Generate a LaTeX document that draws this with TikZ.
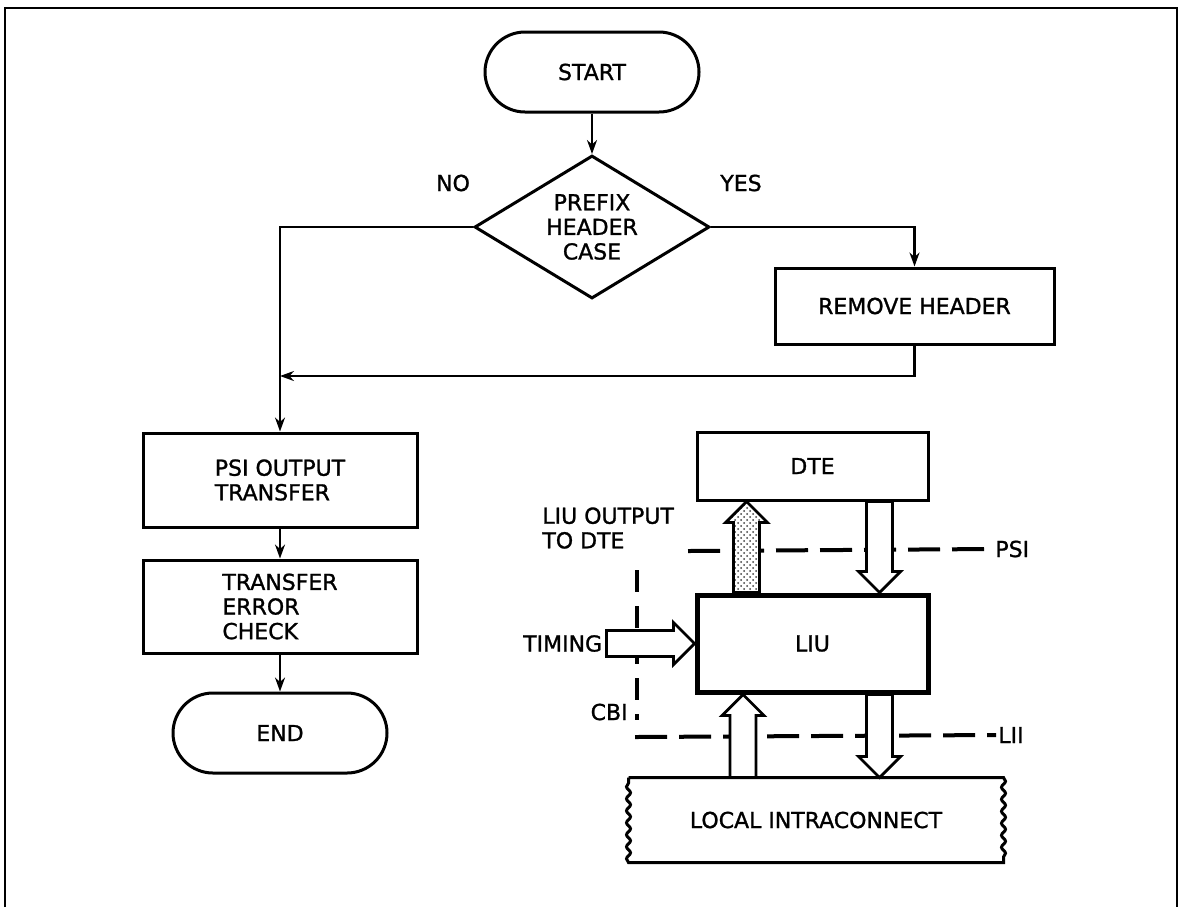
\documentclass[tikz,border=0pt]{standalone}
\usepackage{fontspec}
\setmainfont{DejaVu Sans}[FakeBold=1.2]
\usepackage{tikz}
\usetikzlibrary{arrows.meta,positioning,calc,shapes.geometric,patterns,decorations.pathmorphing}

% hollow block arrow from #2 to #3
\newcommand{\blockarrow}[3][]{%
  \coordinate (hb) at ($(#3)!10.5pt!(#2)$);
  \draw[barrow,#1] ($(#2)!6.5pt!90:(#3)$) -- ($(hb)!6.5pt!-90:(#2)$)
    -- ($(hb)!10.5pt!-90:(#2)$) -- (#3) -- ($(hb)!10.5pt!90:(#2)$)
    -- ($(hb)!6.5pt!90:(#2)$) -- ($(#2)!6.5pt!-90:(#3)$) -- cycle;}

\begin{document}
\begin{tikzpicture}[
  x=0.5pt, y=-0.5pt,
  font=\fontsize{11}{12.3}\selectfont,
  box/.style={draw, line width=1.5pt, minimum width=137pt, inner sep=0pt, align=center},
  term/.style={draw, line width=1.5pt, rounded corners=20pt, minimum width=107pt, minimum height=40pt},
  decision/.style={diamond, draw, line width=1.5pt, aspect=1.64, minimum width=117.5pt, minimum height=71.5pt, inner sep=0pt, align=center},
  lab/.style={inner sep=1pt, align=left},
  arr/.style={-{Stealth[length=7pt,width=5pt]}, line width=1.1pt},
  iface/.style={line width=2pt, dash pattern=on 16pt off 6pt},
  barrow/.style={draw, fill=white, line width=1.4pt, line join=miter},
  wavy/.style={decoration={snake, segment length=6pt, amplitude=1pt}},
]
\useasboundingbox (0,0) rectangle (1182,907);
\draw[line width=1.2pt] (5,907) -- (5,8) -- (1177,8) -- (1177,907);

% ── flow chart ────────────────────────────────────────────────────────────
\node[term] (start) at (592,72) {START};
\node[decision] (prefix) at (592,227) {PREFIX\\HEADER\\CASE};
\node[box, minimum width=139.5pt, minimum height=38pt] (remove) at (914.5,306) {REMOVE HEADER};
\node[box, minimum height=47pt, align=left] (psi) at (280,480) {PSI OUTPUT\\TRANSFER};
\node[box, minimum height=46.5pt, align=left, below=15pt of psi] (tec) {TRANSFER\\ERROR\\CHECK};
\node[term, below=18.5pt of tec] (stop) {END};
\node[lab] (no) at (453,183) {NO};
\node[lab] (yes) at (741,183) {YES};
\coordinate (join) at (280,376);

\draw[arr] (start) -- (prefix);
\draw[arr] (prefix.east) -| (remove.north);
\draw[arr] (prefix.west) -| (psi.north);
\draw[arr] (remove.south) |- (join);
\draw[arr] (psi) -- (tec);
\draw[arr] (tec) -- (stop);

% ── LIU interfaces ────────────────────────────────────────────────────────
\node[box, minimum width=115.5pt, minimum height=34pt] (dte) at (812.5,466) {DTE};
\node[box, line width=2.5pt, minimum width=115.5pt, minimum height=48.5pt] (liu) at (812.5,643.5) {LIU};
\node[minimum width=186pt, minimum height=41pt, line width=1.5pt] (li) at (816,820) {LOCAL INTRACONNECT};
\draw[line width=1.5pt] (li.north west) -- (li.north east) decorate[wavy]{-- (li.south east)}
  -- (li.south west) decorate[wavy]{-- (li.north west)};

\coordinate (timA) at ($(liu.west)+(-88,0)$);
\node[lab, anchor=north west] (outl) at (540,505) {LIU OUTPUT\\TO DTE};
\node[lab, anchor=west] (psil) at (993,549) {PSI};
\node[lab, anchor=west] (liil) at (996,735) {LII};
\node[lab, anchor=east] (cbil) at (630,712) {CBI};
\node[lab, left=1pt of timA] (timl) {TIMING};

\draw[iface] (688,551) -- (psil.west);
\draw[iface] (635,737) -- (liil.west);
\draw[iface, dash pattern=on 11pt off 7pt] (637,570) -- (637,720);

% ── block arrows ──────────────────────────────────────────────────────────
\coordinate (outA) at ($(liu.north)+(-66,0)$);
\coordinate (outB) at (outA |- dte.south);
\coordinate (inA) at ($(dte.south)+(67,0)$);
\coordinate (inB) at (inA |- liu.north);
\coordinate (upA) at ($(li.north)+(-73,0)$);
\coordinate (upB) at (upA |- liu.south);
\coordinate (dnA) at ($(liu.south)+(67,0)$);
\coordinate (dnB) at (dnA |- li.north);

\blockarrow[preaction={fill=white}, pattern=crosshatch dots, pattern color=black!75]{outA}{outB}
\blockarrow{inA}{inB}
\blockarrow{timA}{liu.west}
\blockarrow{upA}{upB}
\blockarrow{dnA}{dnB}
\end{tikzpicture}
\end{document}
